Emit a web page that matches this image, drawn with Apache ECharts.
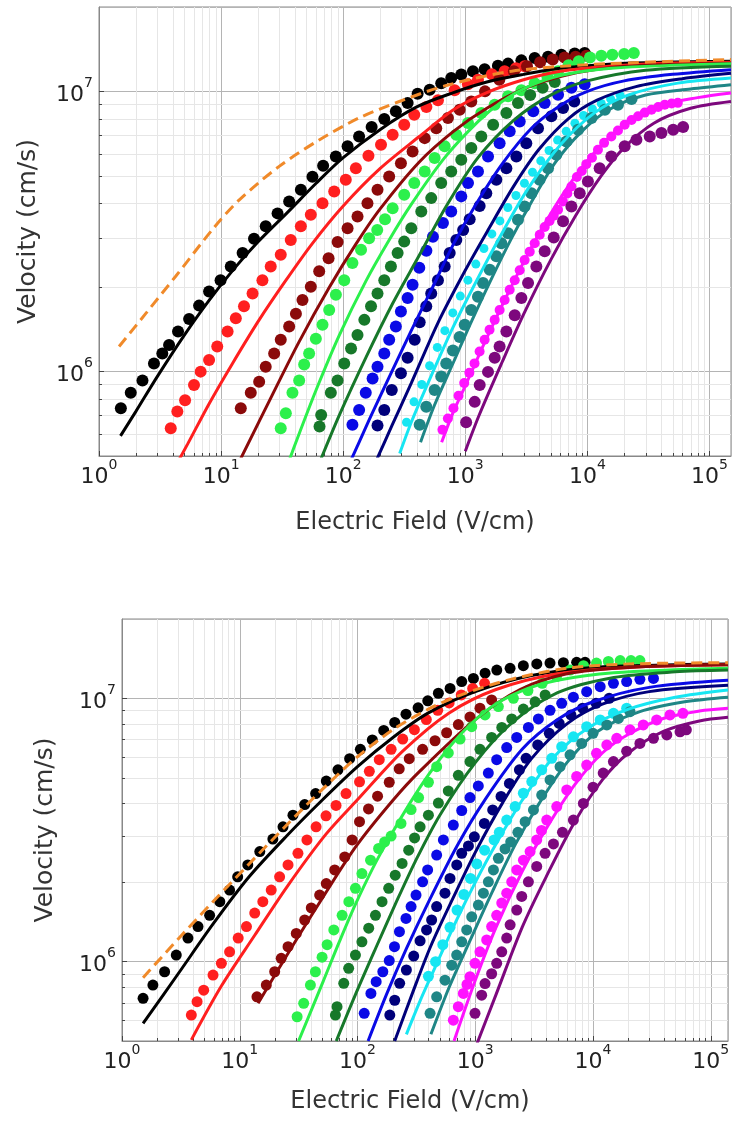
<!DOCTYPE html>
<html>
<head>
<meta charset="utf-8">
<script src="https://cdn.jsdelivr.net/npm/echarts@6/dist/echarts.min.js"></script>
<style>
  html, body { margin: 0; padding: 0; background: #fff; }
  #main { width: 733px; height: 1122px; }
</style>
</head>
<body>
<div id="main"></div>
<script>
// ---- top panel: measured points [field V/cm, velocity cm/s] ----
var topBlackDots = [[1.51,7.4e5],[1.82,8.4e5],[2.27,9.3e5],[2.82,1.07e6],[3.3,1.16e6],[3.75,1.245e6],[4.44,1.39e6],[5.47,1.54e6],[6.6,1.72e6],[7.97,1.93e6],[9.9,2.12e6],[12.0,2.37e6],[15.0,2.65e6],[18.6,2.98e6],[23.2,3.3e6],[29,3.67e6],[36.1,4.05e6],[45,4.46e6],[56,4.96e6],[68.5,5.43e6],[87,5.86e6],[108.6,6.37e6],[135,6.9e6],[171,7.46e6],[217,7.97e6],[270,8.49e6],[337,9.08e6],[407,9.8e6],[511,1.014e7],[635,1.07e7],[767,1.116e7],[927,1.148e7],[1155,1.18e7],[1440,1.2e7],[1850,1.235e7],[2240,1.256e7],[2880,1.29e7],[3700,1.316e7],[4760,1.33e7],[6120,1.35e7],[7870,1.364e7],[9500,1.37e7]];
var topRedDots = [[3.87,6.28e5],[4.38,7.2e5],[5.07,7.9e5],[6.0,8.96e5],[6.8,1.0e6],[7.97,1.1e6],[9.3,1.23e6],[11.3,1.39e6],[13.2,1.55e6],[15.4,1.71e6],[18.1,1.9e6],[21.8,2.12e6],[25.5,2.37e6],[30.8,2.61e6],[37.2,2.95e6],[45,3.3e6],[54.3,3.63e6],[67.7,3.99e6],[84.4,4.39e6],[105,4.84e6],[127,5.32e6],[161,5.89e6],[204,6.45e6],[254,7.0e6],[316,7.6e6],[382,8.26e6],[480,8.8e6],[597,9.3e6],[818,1.01e7],[1050,1.06e7],[1270,1.1e7],[1650,1.15e7],[2100,1.18e7],[2600,1.21e7],[3060,1.23e7]];
var topDarkRedDots = [[14.5,7.4e5],[17.5,8.4e5],[20.5,9.2e5],[23.2,1.04e6],[27.2,1.16e6],[30.8,1.3e6],[36.1,1.45e6],[41,1.61e6],[46.4,1.8e6],[54.3,2.01e6],[63.6,2.28e6],[75.9,2.54e6],[90,2.9e6],[108.6,3.25e6],[131,3.58e6],[158,3.99e6],[191,4.46e6],[238,4.97e6],[297,5.54e6],[370,6.1e6],[465,6.81e6],[578,7.39e6],[721,8.03e6],[899,8.6e6],[1120,9.2e6],[1450,1.0e7],[1900,1.1e7],[2500,1.18e7],[3200,1.23e7],[4100,1.27e7],[5200,1.3e7],[6500,1.32e7],[8000,1.33e7],[9800,1.34e7]];
var topLimeDots = [[30.8,6.28e5],[33.9,7.1e5],[38.4,8.4e5],[43.6,9.3e5],[47.9,1.06e6],[52.6,1.16e6],[59.7,1.31e6],[67.7,1.47e6],[76.8,1.66e6],[87.1,1.88e6],[102,2.12e6],[119,2.44e6],[140,2.72e6],[163,2.99e6],[190,3.2e6],[220,3.5e6],[254,3.83e6],[316,4.28e6],[382,4.71e6],[465,5.18e6],[561,5.78e6],[678,6.37e6],[844,7.0e6],[1052,7.71e6],[1352,8.37e6],[1740,8.96e6],[2240,9.6e6],[2880,1.01e7],[3700,1.07e7],[4700,1.13e7],[5750,1.18e7],[7000,1.24e7],[8500,1.28e7],[10500,1.32e7],[13000,1.34e7],[16000,1.35e7],[20000,1.36e7],[24000,1.37e7]];
var topDarkGreenDots = [[64,6.37e5],[66,7.0e5],[79.2,8.4e5],[89.9,9.3e5],[102,1.07e6],[116,1.21e6],[131,1.35e6],[149,1.53e6],[169,1.71e6],[191,1.9e6],[217,2.12e6],[246,2.37e6],[279,2.65e6],[316,2.91e6],[361,3.25e6],[436,3.73e6],[526,4.16e6],[635,4.71e6],[767,5.18e6],[927,5.7e6],[1120,6.28e6],[1352,6.9e6],[1690,7.6e6],[2170,8.37e6],[2700,9.08e6],[3400,9.7e6],[4300,1.03e7],[5400,1.08e7]];
var topBlueDots = [[119,6.46e5],[135,7.3e5],[153,8.4e5],[174,9.46e5],[191,1.04e6],[217,1.16e6],[238,1.3e6],[270,1.45e6],[297,1.64e6],[337,1.83e6],[370,2.04e6],[420,2.35e6],[480,2.7e6],[543,3.03e6],[656,3.39e6],[767,3.73e6],[927,4.22e6],[1052,4.71e6],[1270,5.18e6],[1535,5.86e6],[1910,6.53e6],[2310,7.2e6],[2790,7.8e6],[3600,8.49e6],[4470,9.08e6],[5750,9.73e6],[7400,1.03e7],[9500,1.06e7]];
var topNavyDots = [[191,6.43e5],[217,7.3e5],[250,8.6e5],[297,9.87e5],[337,1.12e6],[385,1.3e6],[423,1.5e6],[479,1.71e6],[526,1.9e6],[597,2.12e6],[678,2.37e6],[745,2.65e6],[844,2.95e6],[960,3.2e6],[1086,3.5e6],[1310,3.9e6],[1486,4.33e6],[1795,4.84e6],[2170,5.32e6],[2620,5.86e6],[3160,6.53e6],[3940,7.39e6],[5070,8.15e6],[6320,8.72e6],[7800,9.2e6]];
var topCyanDots = [[330,6.6e5],[380,7.8e5],[440,9.0e5],[510,1.05e6],[590,1.22e6],[680,1.4e6],[790,1.62e6],[910,1.86e6],[1050,2.12e6],[1220,2.42e6],[1420,2.75e6],[1650,3.1e6],[1920,3.45e6],[2230,3.85e6],[2600,4.25e6],[3050,4.7e6],[3550,5.15e6],[4150,5.65e6],[4850,6.15e6],[5700,6.7e6],[6700,7.2e6],[7900,7.7e6],[9300,8.2e6],[11000,8.65e6],[13000,9.05e6],[15500,9.4e6],[18500,9.7e6]];
var topTealDots = [[423,6.46e5],[479,7.5e5],[561,8.6e5],[635,9.6e5],[698,1.07e6],[792,1.19e6],[899,1.33e6],[989,1.47e6],[1120,1.66e6],[1270,1.85e6],[1397,2.07e6],[1585,2.31e6],[1795,2.58e6],[1973,2.87e6],[2240,3.12e6],[2700,3.48e6],[3060,3.88e6],[3475,4.33e6],[4060,4.84e6],[4760,5.32e6],[5570,5.94e6],[6730,6.62e6],[8390,7.3e6],[10800,8.03e6],[13900,8.6e6],[17800,8.96e6],[23000,9.4e6]];
var topMagentaDots = [[650,6.2e5],[720,6.8e5],[800,7.4e5],[880,8.2e5],[980,9.1e5],[1080,9.9e5],[1190,1.07e6],[1310,1.18e6],[1440,1.3e6],[1580,1.41e6],[1740,1.53e6],[1910,1.66e6],[2100,1.8e6],[2310,1.96e6],[2540,2.12e6],[2790,2.3e6],[3060,2.5e6],[3370,2.68e6],[3700,2.87e6],[4070,3.08e6],[4470,3.28e6],[4900,3.45e6],[5300,3.6e6],[5750,3.78e6],[6300,4.05e6],[6850,4.32e6],[7400,4.58e6],[8200,4.95e6],[9000,5.2e6],[9800,5.5e6],[10900,5.8e6],[12200,6.19e6],[13700,6.55e6],[15700,6.9e6],[17800,7.25e6],[20200,7.6e6],[23000,7.9e6],[26000,8.15e6],[29500,8.4e6],[33500,8.6e6],[38000,8.8e6],[43000,8.96e6],[49000,9.05e6],[55000,9.1e6]];
var topPurpleDots = [[1016,6.6e5],[1194,7.8e5],[1312,8.96e5],[1535,9.98e5],[1740,1.12e6],[1910,1.23e6],[2170,1.39e6],[2540,1.59e6],[2880,1.83e6],[3265,2.07e6],[3820,2.37e6],[4470,2.69e6],[5300,3.01e6],[6320,3.44e6],[7400,3.88e6],[8650,4.33e6],[10100,4.77e6],[12600,5.32e6],[15700,5.86e6],[20200,6.37e6],[25200,6.72e6],[32400,6.9e6],[40400,7.1e6],[50400,7.3e6],[60800,7.46e6]];

// ---- top panel: fitted curves ----
var topOrangeFit = [[1.46,1.23e6],[2.41,1.61e6],[4.25,2.19e6],[8.77,3.27e6],[14.1,4.1e6],[29.9,5.4e6],[63.6,6.71e6],[135,8.04e6],[288,9.2e6],[700,1.05e7],[2400,1.18e7],[10000,1.245e7],[150000,1.3e7]];
var topBlackFit = [[1.5,5.9e5],[2,7.2e5],[3,9.6e5],[5,1.35e6],[8,1.8e6],[13,2.35e6],[20,2.9e6],[35,3.7e6],[60,4.7e6],[100,5.8e6],[200,7.3e6],[400,8.8e6],[800,9.9e6],[1500,1.08e7],[3000,1.15e7],[6000,1.21e7],[15000,1.25e7],[40000,1.27e7],[150000,1.28e7]];
var topRedFit = [[4,4.4e5],[5.3,5.5e5],[8,7.7e5],[12.4,1.07e6],[20.5,1.53e6],[34,2.12e6],[56,2.87e6],[100,3.9e6],[200,5.3e6],[420,6.9e6],[800,8.6e6],[1500,9.9e6],[3000,1.1e7],[6000,1.18e7],[15000,1.23e7],[40000,1.26e7],[150000,1.27e7]];
var topDarkRedFit = [[14.5,4.9e5],[26.4,8.3e5],[43.6,1.28e6],[77,2.0e6],[127,2.85e6],[200,3.8e6],[420,5.6e6],[800,7.2e6],[1500,8.7e6],[3000,1.02e7],[6000,1.13e7],[12000,1.2e7],[30000,1.24e7],[150000,1.26e7]];
var topLimeFit = [[36,4.8e5],[41,5.6e5],[60,8.6e5],[93,1.35e6],[153,2.1e6],[238,2.95e6],[361,3.95e6],[678,5.8e6],[1270,7.8e6],[2000,9.2e6],[3265,1.04e7],[6000,1.14e7],[15700,1.21e7],[150000,1.256e7]];
var topDarkGreenFit = [[66,4.9e5],[93,7.0e5],[153,1.12e6],[254,1.75e6],[420,2.6e6],[700,3.9e6],[1270,5.8e6],[2500,7.9e6],[5000,9.7e6],[10000,1.09e7],[30000,1.19e7],[150000,1.23e7]];
var topBlueFit = [[115,4.8e5],[130,5.4e5],[170,7.0e5],[250,1.0e6],[361,1.4e6],[540,2.0e6],[800,2.85e6],[1200,3.9e6],[2000,5.5e6],[3500,7.4e6],[6000,8.9e6],[10000,1.0e7],[20000,1.09e7],[50000,1.15e7],[150000,1.195e7]];
var topNavyFit = [[190,4.9e5],[250,6.4e5],[361,9.1e5],[600,1.5e6],[1000,2.3e6],[1535,3.2e6],[2500,4.6e6],[4000,6.2e6],[7000,8.0e6],[12000,9.3e6],[25000,1.04e7],[60000,1.11e7],[150000,1.16e7]];
var topCyanFit = [[290,5.1e5],[361,6.6e5],[500,9.2e5],[800,1.45e6],[1300,2.2e6],[1900,3.0e6],[3265,4.5e6],[6120,6.5e6],[11500,8.4e6],[21500,9.7e6],[55000,1.07e7],[150000,1.116e7]];
var topTealFit = [[430,5.6e5],[560,7.6e5],[800,1.08e6],[1100,1.48e6],[1600,2.1e6],[2400,3.0e6],[3500,4.05e6],[5500,5.6e6],[9000,7.2e6],[15000,8.6e6],[30000,9.7e6],[70000,1.02e7],[150000,1.056e7]];
var topMagentaFit = [[640,5.6e5],[800,7.2e5],[1000,8.9e5],[1500,1.32e6],[2500,2.1e6],[4000,3.1e6],[7000,4.6e6],[12000,6.2e6],[20000,7.6e6],[40000,8.9e6],[80000,9.5e6],[150000,9.87e6]];
var topPurpleFit = [[1000,5.2e5],[1300,7.0e5],[2000,1.08e6],[3000,1.6e6],[5000,2.5e6],[8000,3.6e6],[13000,5.0e6],[20000,6.3e6],[35000,7.7e6],[70000,8.7e6],[150000,9.2e6]];

// ---- bottom panel: measured points ----
var botBlackDots = [[1.51,7.26e5],[1.83,8.15e5],[2.3,9.16e5],[2.89,1.06e6],[3.63,1.23e6],[4.42,1.36e6],[5.55,1.5e6],[6.77,1.69e6],[8.2,1.87e6],[9.6,2.1e6],[11.7,2.33e6],[14.8,2.62e6],[19.1,2.92e6],[23.3,3.25e6],[28.3,3.6e6],[35.6,3.95e6],[44.1,4.35e6],[54.3,4.85e6],[68.2,5.35e6],[85.7,5.9e6],[105.7,6.4e6],[133.6,6.95e6],[167,7.55e6],[207,8.1e6],[258,8.7e6],[327,9.2e6],[395,9.78e6],[486,1.045e7],[611,1.09e7],[767,1.157e7],[964,1.19e7],[1211,1.245e7],[1523,1.28e7],[1975,1.3e7],[2560,1.33e7],[3330,1.35e7],[4310,1.36e7],[5600,1.365e7],[7260,1.37e7],[8560,1.37e7]];
var botRedDots = [[3.88,6.27e5],[4.34,7.05e5],[4.94,7.8e5],[5.93,8.9e5],[6.98,9.86e5],[8.2,1.09e6],[9.7,1.23e6],[11.4,1.36e6],[13.4,1.53e6],[15.7,1.69e6],[18.5,1.87e6],[21.8,2.1e6],[25.7,2.33e6],[31.2,2.58e6],[37.2,2.9e6],[44.5,3.25e6],[54,3.58e6],[65.7,3.92e6],[79.9,4.35e6],[104,4.82e6],[126,5.28e6],[153,5.85e6],[193,6.4e6],[242,7.0e6],[304,7.6e6],[384,8.3e6],[480,9.0e6],[600,9.6e6],[760,1.03e7],[950,1.09e7],[1200,1.14e7]];
var botDarkRedDots = [[14,7.36e5],[16.8,8.15e5],[19.8,9.16e5],[22.5,1.03e6],[25.7,1.14e6],[30.2,1.28e6],[35.6,1.44e6],[40.5,1.6e6],[47.7,1.79e6],[54.3,1.98e6],[64,2.23e6],[77.9,2.5e6],[90,2.9e6],[104,3.4e6],[124,3.8e6],[148,4.25e6],[186,4.8e6],[226,5.4e6],[275,5.9e6],[357,6.4e6],[455,6.9e6],[571,7.4e6],[718,7.95e6],[902,8.5e6],[1096,9.17e6],[1377,9.86e6]];
var botLimeDots = [[30.7,6.18e5],[34.9,6.95e5],[39.8,8.15e5],[43.9,9.16e5],[50,1.04e6],[55.2,1.16e6],[62.9,1.32e6],[74,1.5e6],[84.4,1.69e6],[96,1.9e6],[109,2.16e6],[129,2.43e6],[151,2.69e6],[170,2.85e6],[193,3.0e6],[234,3.35e6],[285,3.78e6],[330,4.2e6],[400,4.8e6],[470,5.5e6],[590,6.2e6],[743,7.0e6],[933,7.8e6],[1211,8.65e6],[1571,9.3e6],[2108,1.0e7],[2800,1.07e7],[3700,1.14e7],[4900,1.21e7],[6400,1.28e7],[8300,1.33e7],[10700,1.36e7],[13500,1.38e7],[17000,1.39e7],[21000,1.39e7],[25000,1.39e7]];
var botDarkGreenDots = [[64.9,6.27e5],[67,6.75e5],[76.4,8.28e5],[84.1,9.44e5],[96,1.06e6],[109,1.19e6],[124.5,1.34e6],[142,1.5e6],[161.5,1.69e6],[184,1.9e6],[209,2.13e6],[239,2.36e6],[272,2.65e6],[305,2.95e6],[340,3.25e6],[400,3.6e6],[486,4.0e6],[590,4.45e6],[718,5.1e6],[902,5.75e6],[1096,6.4e6],[1377,7.1e6],[1680,7.75e6],[2040,8.35e6],[2560,9.1e6],[3220,9.7e6],[3920,1.03e7]];
var botBlueDots = [[114,6.37e5],[130,7.58e5],[144,8.4e5],[164,9.16e5],[186,1.01e6],[206,1.14e6],[227,1.3e6],[258,1.46e6],[285,1.62e6],[314,1.79e6],[357,2.01e6],[394,2.23e6],[470,2.54e6],[536,2.9e6],[651,3.3e6],[767,3.75e6],[902,4.2e6],[1061,4.65e6],[1291,5.2e6],[1520,5.85e6],[1849,6.5e6],[2250,7.1e6],[2825,7.75e6],[3435,8.35e6],[4315,9.0e6],[5420,9.57e6],[6810,1.01e7],[8830,1.06e7],[11500,1.107e7],[14900,1.14e7],[19300,1.157e7],[25000,1.18e7],[32600,1.19e7]];
var botNavyDots = [[188,6.27e5],[207,7.14e5],[228,8.28e5],[260,9.3e5],[300,1.05e6],[340,1.2e6],[386,1.32e6],[426,1.44e6],[470,1.62e6],[553,1.82e6],[610,2.07e6],[696,2.33e6],[767,2.58e6],[875,2.75e6],[982,2.98e6],[1194,3.35e6],[1406,3.77e6],[1655,4.24e6],[1950,4.75e6],[2370,5.35e6],[2700,5.92e6],[3390,6.65e6],[4250,7.36e6],[5160,8.03e6],[6490,8.65e6],[8150,9.17e6],[10600,9.57e6],[13700,1.0e7]];
var botCyanDots = [[400,8.8e5],[460,1.0e6],[530,1.16e6],[610,1.35e6],[700,1.57e6],[800,1.8e6],[910,2.07e6],[1030,2.35e6],[1200,2.65e6],[1445,2.9e6],[1600,3.1e6],[1849,3.45e6],[2180,3.88e6],[2560,4.36e6],[3020,4.83e6],[3665,5.35e6],[4460,5.92e6],[5420,6.55e6],[6810,7.14e6],[8830,7.8e6],[11500,8.28e6],[14900,8.77e6],[19300,9.17e6]];
var botTealDots = [[413,6.37e5],[470,7.36e5],[553,8.51e5],[631,9.7e5],[695,1.06e6],[767,1.19e6],[846,1.32e6],[933,1.48e6],[1062,1.64e6],[1172,1.82e6],[1292,2.01e6],[1426,2.23e6],[1571,2.47e6],[1790,2.68e6],[2000,2.85e6],[2300,3.1e6],[2650,3.4e6],[3120,3.77e6],[3665,4.29e6],[4315,4.9e6],[5250,5.5e6],[6380,6.1e6],[8010,6.74e6],[10000,7.36e6],[13100,7.92e6],[16400,8.39e6],[20600,8.9e6]];
var botMagentaDots = [[651,6.0e5],[718,6.75e5],[792,7.58e5],[850,8.2e5],[902,8.77e5],[995,9.86e5],[1096,1.09e6],[1250,1.21e6],[1377,1.36e6],[1520,1.5e6],[1678,1.67e6],[1849,1.82e6],[2040,2.01e6],[2250,2.23e6],[2564,2.43e6],[2920,2.62e6],[3325,2.9e6],[3650,3.15e6],[4045,3.45e6],[4920,3.88e6],[5980,4.49e6],[7260,5.05e6],[8830,5.58e6],[10700,6.18e6],[13100,6.65e6],[15900,7.05e6],[20600,7.59e6],[26700,7.92e6],[34700,8.28e6],[45000,8.65e6],[58000,8.77e6]];
var botPurpleDots = [[995,6.37e5],[1133,7.46e5],[1210,8.26e5],[1377,9.0e5],[1520,9.86e5],[1678,1.09e6],[1849,1.23e6],[1977,1.38e6],[2250,1.57e6],[2480,1.77e6],[2825,2.01e6],[3325,2.3e6],[3915,2.58e6],[4610,2.8e6],[5500,3.1e6],[6810,3.45e6],[8280,3.99e6],[10000,4.6e6],[12200,5.2e6],[14900,5.75e6],[19300,6.3e6],[25000,6.74e6],[32600,7.05e6],[42300,7.26e6],[54800,7.46e6],[62000,7.59e6]];

// ---- bottom panel: fitted curves ----
var botOrangeFit = [[1.51,8.7e5],[3,1.22e6],[6,1.7e6],[12,2.35e6],[25,3.3e6],[50,4.5e6],[100,6.0e6],[200,7.6e6],[400,9.1e6],[800,1.04e7],[2000,1.18e7],[6000,1.3e7],[20000,1.35e7],[140000,1.365e7]];
var botBlackFit = [[1.51,5.83e5],[3,9.0e5],[6,1.4e6],[12,2.1e6],[25,3.0e6],[50,4.1e6],[100,5.5e6],[200,7.1e6],[400,8.8e6],[1000,1.06e7],[3000,1.22e7],[10000,1.31e7],[140000,1.35e7]];
var botRedFit = [[3.88,5.05e5],[7,8.1e5],[13.4,1.26e6],[25.7,1.95e6],[54,3.05e6],[104,4.2e6],[242,6.3e6],[600,8.8e6],[1500,1.08e7],[5000,1.24e7],[20000,1.31e7],[140000,1.34e7]];
var botDarkRedFit = [[14.3,6.95e5],[25.5,1.07e6],[51,1.76e6],[97.7,2.75e6],[200,4.1e6],[340,5.3e6],[1000,8.3e6],[2400,1.08e7],[6000,1.24e7],[20000,1.31e7],[140000,1.34e7]];
var botLimeFit = [[31.6,5.0e5],[51,8.4e5],[70.6,1.2e6],[97.7,1.68e6],[155,2.55e6],[340,4.6e6],[651,6.8e6],[1250,9.0e6],[2400,1.06e7],[5000,1.17e7],[15000,1.25e7],[140000,1.3e7]];
var botDarkGreenFit = [[66,5.0e5],[96,7.5e5],[142,1.12e6],[209,1.65e6],[309,2.4e6],[500,3.6e6],[1000,5.7e6],[2000,8.0e6],[5000,1.05e7],[15000,1.2e7],[50000,1.26e7],[140000,1.28e7]];
var botBlueFit = [[123,5.0e5],[176,7.5e5],[260,1.12e6],[410,1.72e6],[700,2.75e6],[1200,4.1e6],[2500,6.4e6],[5000,8.3e6],[10000,9.7e6],[30000,1.1e7],[140000,1.17e7]];
var botNavyFit = [[207,5.0e5],[296,7.7e5],[420,1.15e6],[650,1.75e6],[1000,2.6e6],[1700,4.0e6],[3000,5.9e6],[6000,8.0e6],[12000,9.5e6],[30000,1.06e7],[140000,1.12e7]];
var botCyanFit = [[260,5.3e5],[340,7.1e5],[421,8.8e5],[700,1.45e6],[1028,2.05e6],[1500,2.8e6],[2500,4.1e6],[4500,5.9e6],[9000,7.7e6],[20000,9.1e6],[50000,1.01e7],[140000,1.076e7]];
var botTealFit = [[420,5.3e5],[600,8.0e5],[900,1.2e6],[1400,1.85e6],[2200,2.8e6],[3500,4.0e6],[6000,5.7e6],[11000,7.5e6],[25000,8.9e6],[60000,9.7e6],[140000,1.01e7]];
var botMagentaFit = [[660,5.0e5],[1000,8.5e5],[1500,1.35e6],[2500,2.2e6],[4000,3.2e6],[7000,4.7e6],[12000,6.2e6],[20000,7.3e6],[40000,8.4e6],[80000,8.95e6],[140000,9.17e6]];
var botPurpleFit = [[1000,4.7e5],[1500,7.5e5],[2500,1.35e6],[4000,2.1e6],[7000,3.4e6],[12000,4.9e6],[20000,6.2e6],[40000,7.5e6],[80000,8.2e6],[140000,8.47e6]];

var xMaxTop = 1.5e5, xMaxBot = 1.4e5;
var yMin = 5e5, yMax = 2e7;

var colors = {
  black: '#000000', red: '#ff1f1f', darkred: '#8b0a0a', lime: '#2cf04c', darkgreen: '#17782a',
  blue: '#0a0ae6', navy: '#00007a', cyan: '#17e6f2', teal: '#1f8686', magenta: '#ff12ff',
  purple: '#7d087d', orange: '#f08a2a'
};

var FONT = '"DejaVu Sans", sans-serif';

// minor tick values (2..9 per decade)
function minorValues(lo, hi) {
  var out = [];
  for (var e = -1; e <= 8; e++) {
    for (var k = 2; k <= 9; k++) {
      var v = k * Math.pow(10, e);
      if (v > lo && v < hi) out.push(v);
    }
  }
  return out;
}

function minorSeries(idx, xMax) {
  var xs = minorValues(1, xMax).map(function (v) { return [v, yMin, 0]; });
  var ys = minorValues(yMin, yMax).map(function (v) { return [1, v, 1]; });
  return {
    type: 'custom',
    xAxisIndex: idx, yAxisIndex: idx,
    silent: true, z: 1,
    data: xs.concat(ys),
    renderItem: function (params, api) {
      var kind = api.value(2);
      var a, b;
      if (kind === 0) {
        a = api.coord([api.value(0), yMin]);
        b = api.coord([api.value(0), yMax]);
        var xx = Math.round(a[0]) + 0.5;
        return { type: 'group', children: [
          { type: 'line', shape: { x1: xx, y1: a[1], x2: xx, y2: b[1] }, style: { stroke: '#e6e6e6', lineWidth: 1 } },
          { type: 'line', shape: { x1: xx, y1: a[1], x2: xx, y2: a[1] - 3 }, style: { stroke: '#444', lineWidth: 1 } }
        ] };
      }
      a = api.coord([1, api.value(1)]);
      b = api.coord([xMax, api.value(1)]);
      var yy = Math.round(a[1]) + 0.5;
      return { type: 'group', children: [
        { type: 'line', shape: { x1: a[0], y1: yy, x2: b[0], y2: yy }, style: { stroke: '#e6e6e6', lineWidth: 1 } },
        { type: 'line', shape: { x1: a[0], y1: yy, x2: a[0] + 3, y2: yy }, style: { stroke: '#444', lineWidth: 1 } }
      ] };
    }
  };
}

function dots(data, color, idx, size) {
  return {
    type: 'scatter', xAxisIndex: idx, yAxisIndex: idx, data: data,
    symbol: 'circle', symbolSize: size || 12, z: 3, silent: true,
    itemStyle: { color: color, opacity: 1 }
  };
}

function fit(data, color, idx, dashed) {
  return {
    type: 'line', xAxisIndex: idx, yAxisIndex: idx, data: data,
    showSymbol: false, smooth: 0.3, z: dashed ? 5 : 4, silent: true,
    lineStyle: { color: color, width: 3, type: dashed ? [11, 6] : 'solid' }
  };
}

var richLabel = {
  b: { fontSize: 22, fontFamily: FONT, color: '#222', lineHeight: 30, verticalAlign: 'bottom' },
  s: { fontSize: 14, fontFamily: FONT, color: '#222', lineHeight: 16, verticalAlign: 'top' }
};
function powLabel(v) {
  var e = Math.round(Math.log10(v));
  return '{b|10}{s|' + e + '}';
}

function xAxis(idx, xMax, gap, namePad) {
  return {
    type: 'log', logBase: 10, gridIndex: idx, min: 1, max: xMax,
    name: 'Electric Field (V/cm)', nameLocation: 'middle', nameGap: gap,
    nameTextStyle: { fontSize: 24, fontFamily: FONT, color: '#333', padding: namePad },
    axisLine: { show: true, lineStyle: { color: '#888', width: 1 } },
    axisTick: { show: true, inside: true, length: 5, lineStyle: { color: '#444' } },
    axisLabel: { formatter: powLabel, rich: richLabel, margin: 2, showMaxLabel: false, showMinLabel: true },
    splitLine: { show: true, lineStyle: { color: '#b4b4b4', width: 1 } }
  };
}
function yAxis(idx, gap) {
  return {
    type: 'log', logBase: 10, gridIndex: idx, min: yMin, max: yMax,
    name: 'Velocity (cm/s)', nameLocation: 'middle', nameGap: gap, nameRotate: 90,
    nameTextStyle: { fontSize: 25, fontFamily: FONT, color: '#333' },
    axisLine: { show: true, lineStyle: { color: '#888', width: 1 } },
    axisTick: { show: true, inside: true, length: 5, lineStyle: { color: '#444' } },
    axisLabel: { formatter: powLabel, rich: richLabel, margin: 6, showMaxLabel: false, showMinLabel: false },
    splitLine: { show: true, lineStyle: { color: '#b4b4b4', width: 1 } }
  };
}

var series = [
  minorSeries(0, xMaxTop), minorSeries(1, xMaxBot),
  dots(topBlackDots, colors.black, 0), dots(topRedDots, colors.red, 0), dots(topDarkRedDots, colors.darkred, 0),
  dots(topLimeDots, colors.lime, 0), dots(topDarkGreenDots, colors.darkgreen, 0), dots(topBlueDots, colors.blue, 0),
  dots(topNavyDots, colors.navy, 0), dots(topCyanDots, colors.cyan, 0, 9), dots(topTealDots, colors.teal, 0),
  dots(topMagentaDots, colors.magenta, 0, 10), dots(topPurpleDots, colors.purple, 0),
  fit(topBlackFit, colors.black, 0), fit(topRedFit, colors.red, 0), fit(topDarkRedFit, colors.darkred, 0),
  fit(topLimeFit, colors.lime, 0), fit(topDarkGreenFit, colors.darkgreen, 0), fit(topBlueFit, colors.blue, 0),
  fit(topNavyFit, colors.navy, 0), fit(topCyanFit, colors.cyan, 0), fit(topTealFit, colors.teal, 0),
  fit(topMagentaFit, colors.magenta, 0), fit(topPurpleFit, colors.purple, 0), fit(topOrangeFit, colors.orange, 0, true),

  dots(botBlackDots, colors.black, 1, 11), dots(botRedDots, colors.red, 1, 11), dots(botDarkRedDots, colors.darkred, 1, 11),
  dots(botLimeDots, colors.lime, 1, 11), dots(botDarkGreenDots, colors.darkgreen, 1, 11), dots(botBlueDots, colors.blue, 1, 11),
  dots(botNavyDots, colors.navy, 1, 11), dots(botCyanDots, colors.cyan, 1, 11), dots(botTealDots, colors.teal, 1, 11),
  dots(botMagentaDots, colors.magenta, 1, 11), dots(botPurpleDots, colors.purple, 1, 11),
  fit(botBlackFit, colors.black, 1), fit(botRedFit, colors.red, 1), fit(botDarkRedFit, colors.darkred, 1),
  fit(botLimeFit, colors.lime, 1), fit(botDarkGreenFit, colors.darkgreen, 1), fit(botBlueFit, colors.blue, 1),
  fit(botNavyFit, colors.navy, 1), fit(botCyanFit, colors.cyan, 1), fit(botTealFit, colors.teal, 1),
  fit(botMagentaFit, colors.magenta, 1), fit(botPurpleFit, colors.purple, 1), fit(botOrangeFit, colors.orange, 1, true)
];

var myChart = echarts.init(document.getElementById('main'), null, { renderer: 'canvas' });
var option = {
  backgroundColor: '#ffffff',
  animation: false,
  grid: [
    { left: 99, top: 7, width: 632, height: 449, show: true, borderColor: '#888', borderWidth: 1, backgroundColor: '#fff' },
    { left: 122, top: 619, width: 606, height: 422, show: true, borderColor: '#888', borderWidth: 1, backgroundColor: '#fff' }
  ],
  xAxis: [xAxis(0, xMaxTop, 55, [0, 0, 0, 0]), xAxis(1, xMaxBot, 49, [0, 30, 0, 0])],
  yAxis: [yAxis(0, 58), yAxis(1, 64)],
  series: series
};
myChart.setOption(option);
</script>
</body>
</html>
